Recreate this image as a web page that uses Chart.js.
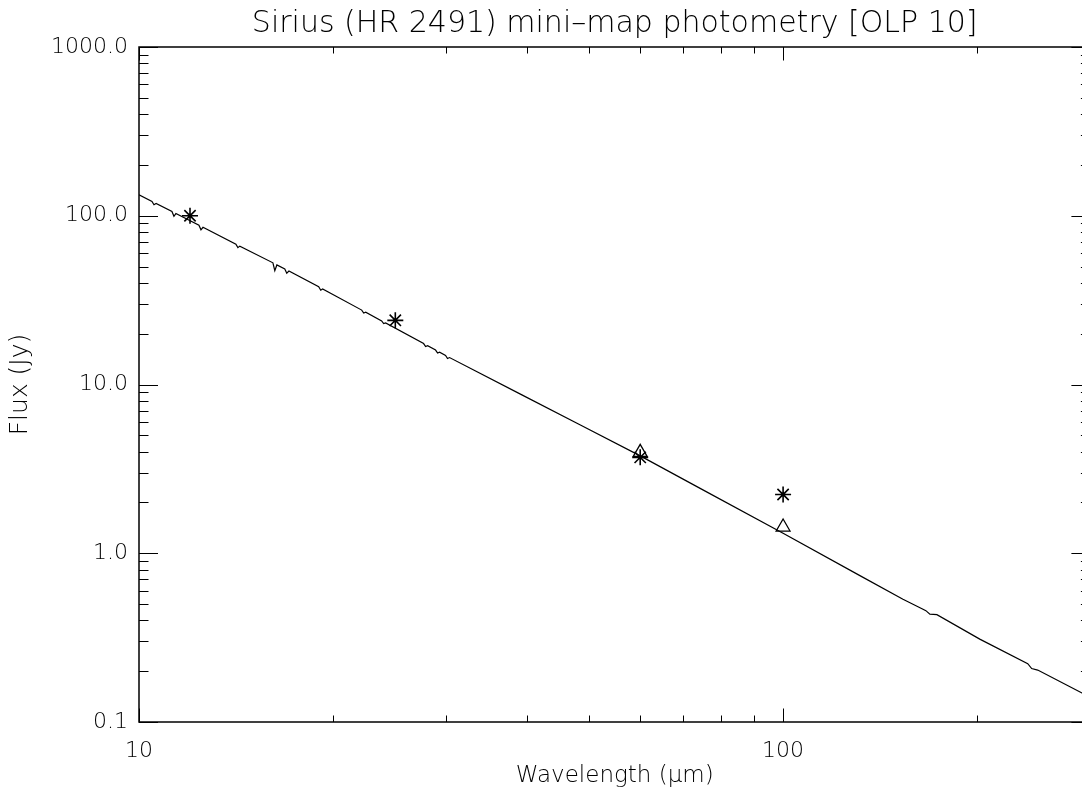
<!DOCTYPE html>
<html>
<head>
<meta charset="utf-8">
<script src="https://cdn.jsdelivr.net/npm/chart.js@4.4.0/dist/chart.umd.min.js"></script>
<style>
  html, body { margin: 0; padding: 0; background: #fff; overflow: hidden; }
  #wrap { width: 1082px; height: 794px; overflow: hidden; position: relative; }
  canvas { display: block; }
</style>
</head>
<body>
<div id="wrap"><canvas id="c" width="1100" height="794"></canvas></div>
<script>
// IRAS-band mini-map photometry (asterisks), wavelength in micron, flux in Jy
const bandWavelengths = [12, 25, 60, 100];
const miniMapFlux = [100, 24.0, 3.70, 2.23];

// second photometry set (triangles)
const altWavelengths = [60, 100];
const altFlux = [3.96, 1.43];

// stellar model spectrum
const modelWavelengths = [
  10.00, 10.475, 10.55, 10.63, 11.25, 11.33, 11.41, 12.39, 12.48, 12.57,
  14.14, 14.24, 14.34, 16.14, 16.25, 16.37, 16.84, 16.96, 17.09, 19.01,
  19.15, 19.28, 22.17, 22.33, 22.49, 23.81, 23.98, 24.15, 27.66, 27.86,
  28.06, 28.87, 29.08, 29.29, 29.92, 30.13, 30.35, 39.10, 48.45, 60.01,
  74.34, 100.0, 131.6, 153.5, 164.9, 166.6, 169.0, 173.3, 202.0, 239.8,
  243.2, 248.5, 300.3
];
const modelFlux = [
  133.1, 121.7, 116.2, 118.3, 105.9, 99.3, 103.0, 87.9, 82.6, 85.4,
  67.9, 64.7, 66.1, 52.6, 47.3, 51.1, 48.4, 45.7, 47.0, 37.96,
  36.2, 36.8, 27.6, 26.5, 26.8, 23.8, 22.96, 23.15, 17.48, 16.78,
  16.97, 16.00, 15.36, 15.55, 14.87, 14.25, 14.44, 8.77, 5.75, 3.775,
  2.424, 1.313, 0.7371, 0.5342, 0.4662, 0.4568, 0.4355, 0.4325, 0.3098, 0.2216,
  0.2073, 0.2031, 0.1396
];

// axis ticks
const xTickValues = [10, 100];
const xTickLabels = ['10', '100'];
const xMinorTicks = [20, 30, 40, 50, 60, 70, 80, 90, 200, 300];
const yTickValues = [0.1, 1, 10, 100, 1000];
const yTickLabels = ['0.1', '1.0', '10.0', '100.0', '1000.0'];
const yMinorTicks = [
  0.2, 0.3, 0.4, 0.5, 0.6, 0.7, 0.8, 0.9,
  2, 3, 4, 5, 6, 7, 8, 9,
  20, 30, 40, 50, 60, 70, 80, 90,
  200, 300, 400, 500, 600, 700, 800, 900
];

const FONT = "'DejaVu Sans', 'Liberation Sans', sans-serif";
const INK = '#000';

const toPoints = (xs, ys) => xs.map((v, i) => ({ x: v, y: ys[i] }));

// boxed frame with inward ticks on all four sides
const framePlugin = {
  id: 'frame',
  afterDatasetsDraw(chart) {
    const { ctx, chartArea: a, scales: { x, y } } = chart;
    ctx.save();
    ctx.strokeStyle = INK;
    ctx.lineWidth = 1.5;
    ctx.strokeRect(a.left, a.top, a.right - a.left, a.bottom - a.top);
    ctx.lineWidth = 1;
    ctx.beginPath();
    const xTick = (v, len) => {
      const px = Math.round(x.getPixelForValue(v)) + 0.5;
      ctx.moveTo(px, a.bottom); ctx.lineTo(px, a.bottom - len);
      ctx.moveTo(px, a.top); ctx.lineTo(px, a.top + len);
    };
    const yTick = (v, len) => {
      const py = Math.round(y.getPixelForValue(v)) + 0.5;
      ctx.moveTo(a.left, py); ctx.lineTo(a.left + len, py);
      ctx.moveTo(a.right, py); ctx.lineTo(a.right - len, py);
    };
    xTickValues.forEach(v => xTick(v, 13.5));
    xMinorTicks.forEach(v => xTick(v, 6.5));
    yTickValues.forEach(v => yTick(v, 19));
    yMinorTicks.forEach(v => yTick(v, 9.5));
    ctx.stroke();
    ctx.restore();
  }
};

new Chart(document.getElementById('c'), {
  type: 'scatter',
  data: {
    datasets: [
      {
        label: 'mini-map',
        data: toPoints(bandWavelengths, miniMapFlux),
        pointStyle: 'star',
        pointRadius: 8,
        borderColor: INK,
        backgroundColor: INK,
        pointBorderWidth: 1.6,
        showLine: false
      },
      {
        label: 'alt',
        data: toPoints(altWavelengths, altFlux),
        pointStyle: 'triangle',
        pointRadius: 8,
        borderColor: INK,
        backgroundColor: 'rgba(0,0,0,0)',
        pointBorderWidth: 1.3,
        showLine: false
      },
      {
        label: 'model',
        data: toPoints(modelWavelengths, modelFlux),
        showLine: true,
        borderColor: INK,
        borderWidth: 1.2,
        pointRadius: 0,
        tension: 0
      }
    ]
  },
  options: {
    responsive: false,
    animation: false,
    devicePixelRatio: 1,
    layout: { padding: { left: 0, right: 9, top: 0, bottom: 0 } },
    plugins: {
      legend: { display: false },
      tooltip: { enabled: false },
      title: {
        display: true,
        fullSize: false,
        text: 'Sirius (HR 2491) mini–map photometry [OLP 10]',
        color: INK,
        font: { family: FONT, size: 30, weight: '200', lineHeight: 1.2 },
        padding: { top: 6, bottom: 5 }
      }
    },
    scales: {
      x: {
        type: 'logarithmic',
        position: 'bottom',
        min: 10,
        max: 300,
        afterBuildTicks: s => { s.ticks = xTickValues.map(v => ({ value: v })); },
        afterFit: s => { s.height = 72; },
        grid: { display: false, drawTicks: false },
        border: { display: false },
        ticks: {
          autoSkip: false, maxRotation: 0, minRotation: 0, padding: 16,
          color: INK,
          font: { family: FONT, size: 22, weight: '200' },
          callback: v => { const i = xTickValues.indexOf(v); return i >= 0 ? xTickLabels[i] : ''; }
        },
        title: {
          display: true,
          text: 'Wavelength (μm)',
          color: INK,
          font: { family: FONT, size: 23, weight: '200', lineHeight: 1.2 },
          padding: { top: 0, bottom: 4 }
        }
      },
      y: {
        type: 'logarithmic',
        position: 'left',
        min: 0.1,
        max: 1000,
        afterBuildTicks: s => { s.ticks = yTickValues.map(v => ({ value: v })); },
        afterFit: s => { s.width = 139; },
        grid: { display: false, drawTicks: false },
        border: { display: false },
        ticks: {
          autoSkip: false, padding: 11,
          color: INK,
          font: { family: FONT, size: 22, weight: '200' },
          callback: v => { const i = yTickValues.indexOf(v); return i >= 0 ? yTickLabels[i] : ''; }
        },
        title: {
          display: true,
          text: 'Flux (Jy)',
          color: INK,
          font: { family: FONT, size: 25, weight: '200', lineHeight: 1.2 },
          padding: { top: 5, bottom: 0 }
        }
      }
    }
  },
  plugins: [framePlugin]
});
</script>
</body>
</html>
